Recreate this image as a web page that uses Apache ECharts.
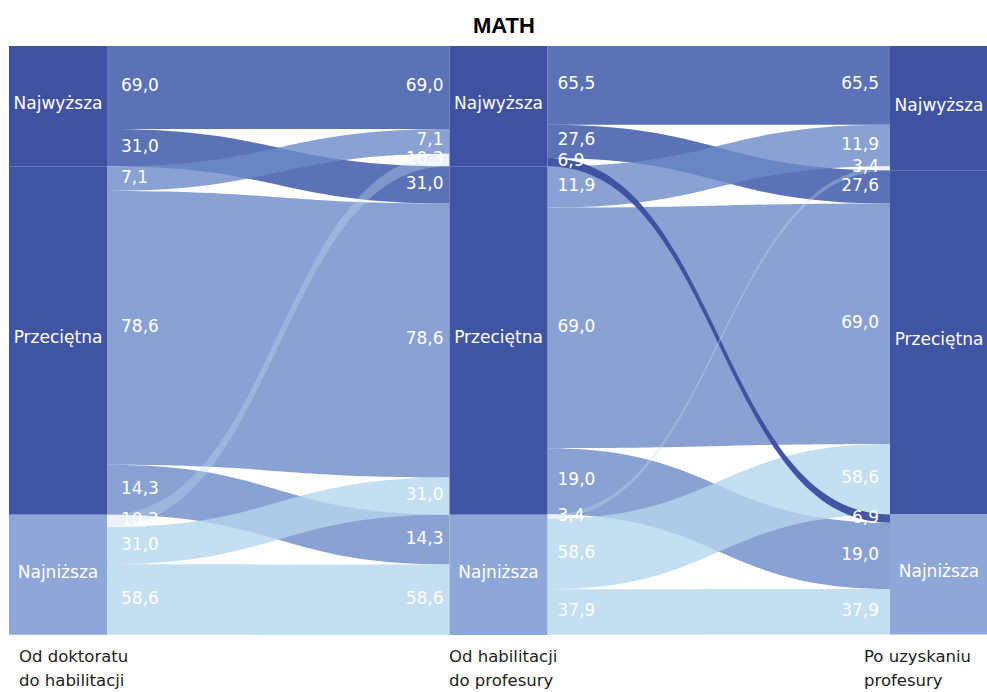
<!DOCTYPE html>
<html>
<head>
<meta charset="utf-8">
<title>MATH</title>
<script src="https://cdn.jsdelivr.net/npm/echarts@6/dist/echarts.min.js"></script>
<style type="text/css">
    *{margin:0;padding:0;}
    body{background:#fff;overflow:hidden;}
    #main{width:987px;height:692px;}
</style>
</head>
<body>
<div id="main"></div>
<script type="text/javascript">
    // poziomy i etapy
    var levels = ['Najwyższa', 'Przeciętna', 'Najniższa'];
    var stageNames = ['Od doktoratu\ndo habilitacji', 'Od habilitacji\ndo profesury', 'Po uzyskaniu\nprofesury'];
    // liczebność grup na początku etapu (z wysokości węzłów)
    var groupSize1 = [29, 84, 29];
    var groupSize2 = [29, 84, 29];
    // odsetki przejść: wiersz = poziom źródłowy, kolumna = poziom docelowy
    var pct1 = [
        [69.0, 31.0, 0],
        [7.1, 78.6, 14.3],
        [10.3, 31.0, 58.6]
    ];
    var pct2 = [
        [65.5, 27.6, 6.9],
        [11.9, 69.0, 19.0],
        [3.4, 58.6, 37.9]
    ];

    var nodeColors = ['#3f52a2', '#4054a4', '#8fa6d8'];
    var linkColors = ['#324fa4', '#6d8bc8', '#b5d6ef'];
    var FONT = 'DejaVu Sans';
    var nodeW = 98;
    var startPad = [14, 10];
    var endPad = [6, 11];

    var pcts = [pct1, pct2];
    var sizes = [groupSize1, groupSize2];

    // styl wstęgi: skoki o dwa poziomy wyglądają inaczej niż reszta
    function linkStyle(i, j) {
        if (i === 0 && j === 2) return {color: '#3a4d9f', opacity: 0.95};
        if (i === 2 && j === 0) return {color: '#c4def2', opacity: 0.35};
        return {color: linkColors[i], opacity: 0.8};
    }

    var nodes = [];
    var links = [];
    var jumpLinks = [];
    for (var c = 0; c < 3; c++) {
        for (var i = 0; i < 3; i++) {
            nodes.push({name: 'c' + c + '_' + i, depth: c, itemStyle: {color: nodeColors[i]}});
        }
    }
    // wartości węzłów (jak w układzie sankey: max(wejście, wyjście))
    var inSum = [[0,0,0],[0,0,0],[0,0,0]];
    var outSum = [[0,0,0],[0,0,0],[0,0,0]];
    for (var s = 0; s < 2; s++) {
        for (var i = 0; i < 3; i++) {
            for (var j = 0; j < 3; j++) {
                var p = pcts[s][i][j];
                if (!p) continue;
                var v = p * sizes[s][i] / 100;
                var lk = {
                    source: 'c' + s + '_' + i,
                    target: 'c' + (s + 1) + '_' + j,
                    value: v,
                    lineStyle: linkStyle(i, j)
                };
                // skoki rysowane na końcu (na wierzchu)
                if (Math.abs(i - j) === 2) jumpLinks.push(lk); else links.push(lk);
                outSum[s][i] += v;
                inSum[s + 1][j] += v;
            }
        }
    }
    links = links.concat(jumpLinks);

    var colStart = [];
    var total = 0;
    for (var c = 0; c < 3; c++) {
        var acc = 0;
        colStart.push([]);
        for (var i = 0; i < 3; i++) {
            colStart[c].push(acc);
            acc += Math.max(inSum[c][i], outSum[c][i]);
        }
        total = Math.max(total, acc);
    }

    // etykiety na końcach wstęg: [kolumna, y, odsetek, koniec?, etap]
    var labelData = [];
    for (var s = 0; s < 2; s++) {
        for (var i = 0; i < 3; i++) {
            var cum = 0;
            for (var j = 0; j < 3; j++) {
                var p = pcts[s][i][j];
                if (!p) continue;
                var v = p * sizes[s][i] / 100;
                labelData.push([s, colStart[s][i] + cum + v / 2, p, 0, s]);
                cum += v;
            }
        }
        for (var j = 0; j < 3; j++) {
            var cum = 0;
            for (var i = 0; i < 3; i++) {
                var p = pcts[s][i][j];
                if (!p) continue;
                var v = p * sizes[s][i] / 100;
                labelData.push([s + 1, colStart[s + 1][j] + cum + v / 2, p, 1, s]);
                cum += v;
            }
        }
    }

    function fmt(p) {
        return p.toFixed(1).replace('.', ',');
    }

    var myChart = echarts.init(document.getElementById('main'), null, {renderer: 'svg'});
    var option = {
        animation: false,
        backgroundColor: '#fff',
        title: {
            text: 'MATH',
            left: 468,
            top: 9,
            textStyle: {fontFamily: 'Liberation Sans', fontWeight: 'bold', fontSize: 22, color: '#000'}
        },
        grid: {left: 9, top: 46, width: 881, height: 589},
        xAxis: {type: 'value', min: 0, max: 2, show: false},
        yAxis: {type: 'value', min: 0, max: total, inverse: true, show: false},
        graphic: stageNames.map(function (t, k) {
            return {
                type: 'text',
                left: [19, 449, 864][k],
                top: 644,
                style: {text: t, font: '16.5px ' + FONT, fill: '#222', lineHeight: 24}
            };
        }),
        series: [
            {
                type: 'sankey',
                left: 9,
                top: 46,
                width: 979,
                height: 589,
                nodeWidth: nodeW,
                nodeGap: 0,
                layoutIterations: 0,
                draggable: false,
                silent: true,
                emphasis: {disabled: true},
                data: nodes,
                links: links,
                label: {
                    position: 'inside',
                    color: '#fff',
                    fontFamily: FONT,
                    fontSize: 17,
                    offset: [0, -3],
                    formatter: function (prm) {
                        return levels[+prm.name.split('_')[1]];
                    }
                },
                lineStyle: {curveness: 0.5}
            },
            {
                type: 'custom',
                coordinateSystem: 'cartesian2d',
                silent: true,
                z: 10,
                data: labelData,
                renderItem: function (params, api) {
                    var pt = api.coord([api.value(0), api.value(1)]);
                    var end = api.value(3) === 1;
                    var s = api.value(4);
                    return {
                        type: 'text',
                        x: end ? pt[0] - endPad[s] : pt[0] + nodeW + startPad[s],
                        y: pt[1] - 2,
                        style: {
                            text: fmt(api.value(2)),
                            fill: '#fff',
                            font: '17px ' + FONT,
                            align: end ? 'right' : 'left',
                            verticalAlign: 'middle'
                        }
                    };
                }
            }
        ]
    };
    myChart.setOption(option);
</script>
</body>
</html>
